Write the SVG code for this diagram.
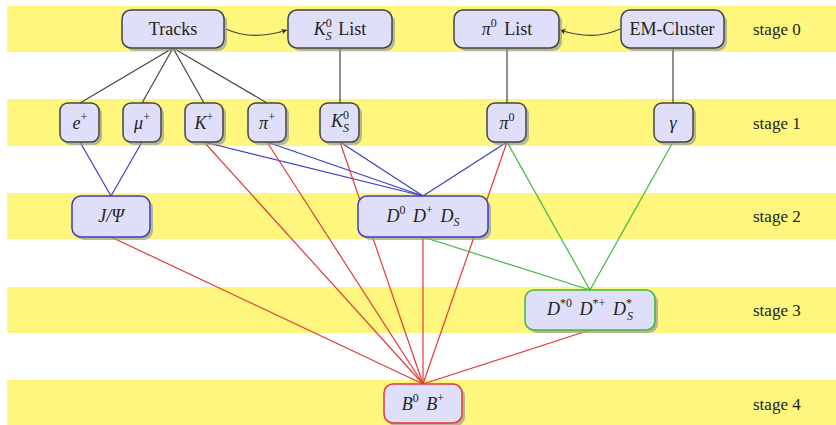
<svg xmlns="http://www.w3.org/2000/svg" width="836" height="425" viewBox="0 0 836 425">
<defs>
<style>
.band{fill:#fff67e}
.box{fill:#dfdff9;stroke-width:1.5}
.sh{fill:#9a9a9a;opacity:0.7}
.k{stroke:#444}
.b{stroke:#3d3dc8}
.g{stroke:#3fb83f}
.r{stroke:#e03a3a}
text{font-family:"Liberation Serif","DejaVu Serif",serif;font-size:18px;fill:#222}
.st{font-size:17px}
.m{font-style:italic}
.s{font-size:12px}
.lbl{text-anchor:middle}
.ln{fill:none;stroke-width:1.2}
</style>
<marker id="ah" viewBox="0 0 10 10" refX="9" refY="5" markerWidth="7" markerHeight="7" orient="auto-start-reverse" markerUnits="userSpaceOnUse">
<path d="M1,1 L9,5 L1,9 L3.5,5 Z" fill="#222"/>
</marker>
</defs>
<rect width="836" height="425" fill="#fff"/>
<g id="bands">
<rect class="band" x="7" y="6" width="829" height="46"/>
<rect class="band" x="7" y="99" width="829" height="47"/>
<rect class="band" x="7" y="193" width="829" height="46"/>
<rect class="band" x="7" y="287" width="829" height="46"/>
<rect class="band" x="7" y="380" width="829" height="45"/>
</g>
<g id="stage-labels">
<text class="st" x="753" y="35">stage 0</text>
<text class="st" x="753" y="129">stage 1</text>
<text class="st" x="753" y="222">stage 2</text>
<text class="st" x="753" y="316">stage 3</text>
<text class="st" x="753" y="410">stage 4</text>
</g>
<g id="connectors">
<g class="k ln">
<line x1="173" y1="48" x2="80" y2="103"/>
<line x1="173" y1="48" x2="142" y2="103"/>
<line x1="173" y1="48" x2="204" y2="103"/>
<line x1="173" y1="48" x2="267" y2="103"/>
<line x1="340" y1="48" x2="340" y2="103"/>
<line x1="507" y1="48" x2="507" y2="103"/>
<line x1="673" y1="48" x2="673" y2="103"/>
<path d="M226,29 C245,38 265,37 287,30" marker-end="url(#ah)"/>
<path d="M620,29 C601,38 581,37 560,30" marker-end="url(#ah)"/>
</g>
<g class="b ln">
<line x1="80" y1="142" x2="111" y2="196"/>
<line x1="142" y1="142" x2="111" y2="196"/>
<line x1="204" y1="142" x2="423" y2="196"/>
<line x1="267" y1="142" x2="423" y2="196"/>
<line x1="340" y1="142" x2="423" y2="196"/>
<line x1="507" y1="142" x2="423" y2="196"/>
</g>
<g class="r ln">
<line x1="204" y1="142" x2="423" y2="384"/>
<line x1="267" y1="142" x2="423" y2="384"/>
<line x1="340" y1="142" x2="423" y2="384"/>
<line x1="507" y1="142" x2="423" y2="384"/>
<line x1="111" y1="237" x2="423" y2="384"/>
<line x1="423" y1="237" x2="423" y2="384"/>
<line x1="590" y1="330" x2="423" y2="384"/>
</g>
<g class="g ln">
<line x1="507" y1="142" x2="590" y2="290"/>
<line x1="673" y1="142" x2="590" y2="290"/>
<line x1="423" y1="237" x2="590" y2="290"/>
</g>
</g>
<g id="tracks">
<rect class="sh" x="125" y="13" width="102" height="38" rx="9"/>
<rect class="box k" x="122" y="10" width="102" height="38" rx="9"/>
<text class="lbl" x="173" y="35">Tracks</text>
</g>
<g id="ks-list">
<rect class="sh" x="291" y="13" width="104" height="38" rx="9"/>
<rect class="box k" x="288" y="10" width="104" height="38" rx="9"/>
<text class="lbl" x="340" y="35"><tspan class="m">K</tspan><tspan class="s" dy="-8">0</tspan><tspan class="s m" dx="-6" dy="13">S</tspan><tspan dx="2" dy="-5"> List</tspan></text>
</g>
<g id="pi0-list">
<rect class="sh" x="457" y="13" width="105" height="38" rx="9"/>
<rect class="box k" x="454" y="10" width="105" height="38" rx="9"/>
<text class="lbl" x="507" y="35"><tspan class="m">π</tspan><tspan class="s" dy="-8">0</tspan><tspan dx="3" dy="8"> List</tspan></text>
</g>
<g id="em-cluster">
<rect class="sh" x="624" y="13" width="103" height="38" rx="9"/>
<rect class="box k" x="621" y="10" width="103" height="38" rx="9"/>
<text class="lbl" x="672" y="35">EM-Cluster</text>
</g>
<g id="e-plus">
<rect class="sh" x="63" y="106" width="39" height="39" rx="8"/>
<rect class="box k" x="60" y="103" width="39" height="39" rx="8"/>
<text class="lbl" x="80" y="129"><tspan class="m">e</tspan><tspan class="s" dy="-8">+</tspan></text>
</g>
<g id="mu-plus">
<rect class="sh" x="126" y="106" width="38" height="39" rx="8"/>
<rect class="box k" x="123" y="103" width="38" height="39" rx="8"/>
<text class="lbl" x="142" y="129"><tspan class="m">μ</tspan><tspan class="s" dy="-8">+</tspan></text>
</g>
<g id="k-plus">
<rect class="sh" x="188" y="106" width="38" height="39" rx="8"/>
<rect class="box k" x="185" y="103" width="38" height="39" rx="8"/>
<text class="lbl" x="204" y="129"><tspan class="m">K</tspan><tspan class="s" dy="-8">+</tspan></text>
</g>
<g id="pi-plus">
<rect class="sh" x="251" y="106" width="38" height="39" rx="8"/>
<rect class="box k" x="248" y="103" width="38" height="39" rx="8"/>
<text class="lbl" x="267" y="129"><tspan class="m">π</tspan><tspan class="s" dy="-8">+</tspan></text>
</g>
<g id="ks">
<rect class="sh" x="323" y="106" width="39" height="39" rx="8"/>
<rect class="box k" x="320" y="103" width="39" height="39" rx="8"/>
<text class="lbl" x="340" y="127"><tspan class="m">K</tspan><tspan class="s" dy="-8">0</tspan><tspan class="s m" dx="-6" dy="13">S</tspan></text>
</g>
<g id="pi0">
<rect class="sh" x="490" y="106" width="39" height="39" rx="8"/>
<rect class="box k" x="487" y="103" width="39" height="39" rx="8"/>
<text class="lbl" x="507" y="129"><tspan class="m">π</tspan><tspan class="s" dy="-8">0</tspan></text>
</g>
<g id="gamma">
<rect class="sh" x="657" y="106" width="39" height="39" rx="8"/>
<rect class="box k" x="654" y="103" width="39" height="39" rx="8"/>
<text class="lbl m" x="673" y="129">γ</text>
</g>
<g id="jpsi">
<rect class="sh" x="75" y="199" width="78" height="41" rx="9"/>
<rect class="box b" x="72" y="196" width="78" height="41" rx="9"/>
<text class="lbl m" x="111" y="222">J/Ψ</text>
</g>
<g id="d-mesons">
<rect class="sh" x="361" y="199" width="130" height="41" rx="9"/>
<rect class="box b" x="358" y="196" width="130" height="41" rx="9"/>
<text class="lbl" x="423" y="222"><tspan class="m">D</tspan><tspan class="s" dy="-8">0</tspan><tspan class="m" dx="3" dy="8"> D</tspan><tspan class="s" dy="-8">+</tspan><tspan class="m" dx="3" dy="8"> D</tspan><tspan class="s m" dy="4">S</tspan></text>
</g>
<g id="dstar-mesons">
<rect class="sh" x="528" y="293" width="130" height="40" rx="9"/>
<rect class="box g" x="525" y="290" width="130" height="40" rx="9"/>
<text class="lbl" x="590" y="315"><tspan class="m">D</tspan><tspan class="s" dy="-8">*0</tspan><tspan class="m" dx="3" dy="8"> D</tspan><tspan class="s" dy="-8">*+</tspan><tspan class="m" dx="3" dy="8"> D</tspan><tspan class="s" dy="-8">*</tspan><tspan class="s m" dx="-5" dy="13">S</tspan></text>
</g>
<g id="b-mesons">
<rect class="sh" x="387" y="387" width="78" height="39" rx="9"/>
<rect class="box r" x="384" y="384" width="78" height="39" rx="9"/>
<text class="lbl" x="423" y="410"><tspan class="m">B</tspan><tspan class="s" dy="-8">0</tspan><tspan class="m" dx="3" dy="8"> B</tspan><tspan class="s" dy="-8">+</tspan></text>
</g>
</svg>
